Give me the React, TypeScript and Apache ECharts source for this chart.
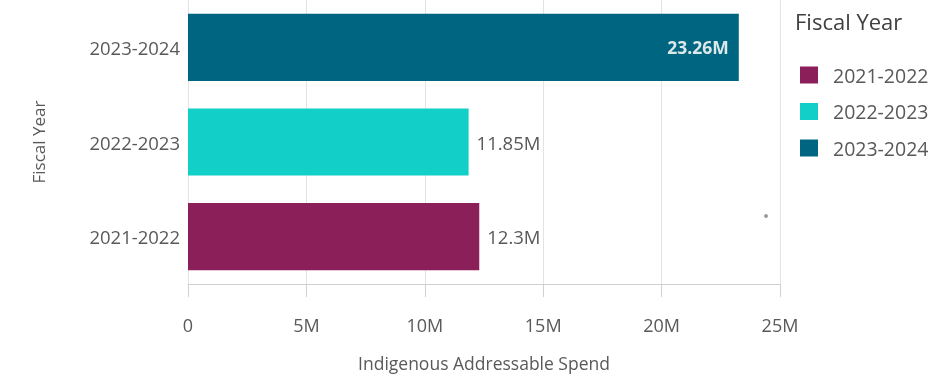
import React, { useEffect, useRef } from "react";
import * as echarts from "echarts";

const categories = ["2021-2022", "2022-2023", "2023-2024"];
const seriesNames = ["2021-2022", "2022-2023", "2023-2024"];
const values = [12300000, 11850000, 23260000];
const colors = ["#8a1f5a", "#12cfc8", "#006580"];
const xTicks = [0, 5000000, 10000000, 15000000, 20000000, 25000000];

const FONT = "'Open Sans', 'Noto Sans', sans-serif";

function fmtM(v: number) {
  if (v === 0) return "0";
  const m = v / 1e6;
  return `${parseFloat(m.toFixed(2))}M`;
}

export default function App() {
  const ref = useRef<HTMLDivElement>(null);
  useEffect(() => {
    if (!ref.current) return;
    const chart = echarts.init(ref.current, undefined, { renderer: "svg" });
    const series = seriesNames.map((name, i) => {
      const inside = values[i] > 20000000;
      return {
        name,
        type: "bar",
        stack: "all",
        barCategoryGap: "29%",
        itemStyle: { color: colors[i] },
        data: categories.map((c, j) => (j === i ? values[i] : "-")),
        label: {
          show: true,
          position: inside ? "insideRight" : "right",
          distance: inside ? 10 : 8,
          formatter: (p: any) => fmtM(p.value),
          color: inside ? "#dde8eb" : "#595959",
          fontWeight: inside ? "bold" : "normal",
          fontFamily: FONT,
          fontSize: inside ? 17.5 : 18.5,
        },
      };
    });
    chart.setOption({
      animation: false,
      grid: {
        left: 188,
        right: 161,
        top: 0,
        bottom: 94,
        containLabel: false,
        outerBoundsMode: "none",
      },
      legend: {
        orient: "vertical",
        left: 795,
        top: 60,
        itemWidth: 18,
        itemHeight: 17,
        itemGap: 16.5,
        icon: "rect",
        data: seriesNames,
        textStyle: { color: "#595959", fontSize: 19.5, fontFamily: FONT, padding: [0, 0, 0, 10] },
      },
      graphic: [
        {
          type: "text",
          left: 795,
          top: 10,
          style: { text: "Fiscal Year", fill: "#404040", fontSize: 22, fontFamily: FONT },
        },
        {
          type: "circle",
          shape: { cx: 766, cy: 216, r: 2 },
          style: { fill: "#9e9e9e" },
        },
      ],
      xAxis: {
        type: "value",
        min: 0,
        max: 25000000,
        interval: 5000000,
        name: "Indigenous Addressable Spend",
        nameLocation: "middle",
        nameGap: 70,
        nameTextStyle: { color: "#595959", fontSize: 17.5, fontFamily: FONT },
        axisLine: { show: true, lineStyle: { color: "#d0d0d0" } },
        axisTick: { show: true, length: 13, lineStyle: { color: "#d0d0d0" } },
        axisLabel: {
          margin: 32,
          color: "#595959",
          fontSize: 18,
          fontFamily: FONT,
          formatter: (v: number) => (xTicks.includes(v) ? fmtM(v) : ""),
        },
        splitLine: { show: true, lineStyle: { color: "#e3e3e3" } },
      },
      yAxis: {
        type: "category",
        data: categories,
        name: "Fiscal Year",
        nameLocation: "middle",
        nameGap: 141,
        nameRotate: 90,
        nameTextStyle: { color: "#595959", fontSize: 17, fontFamily: FONT },
        axisLine: { show: false },
        axisTick: { show: false },
        axisLabel: { margin: 8, color: "#595959", fontSize: 18.5, fontFamily: FONT },
      },
      series,
    });
    return () => chart.dispose();
  }, []);
  return (
    <div
      ref={ref}
      style={{ position: "fixed", left: 0, top: 0, width: 941, height: 378 }}
    />
  );
}
